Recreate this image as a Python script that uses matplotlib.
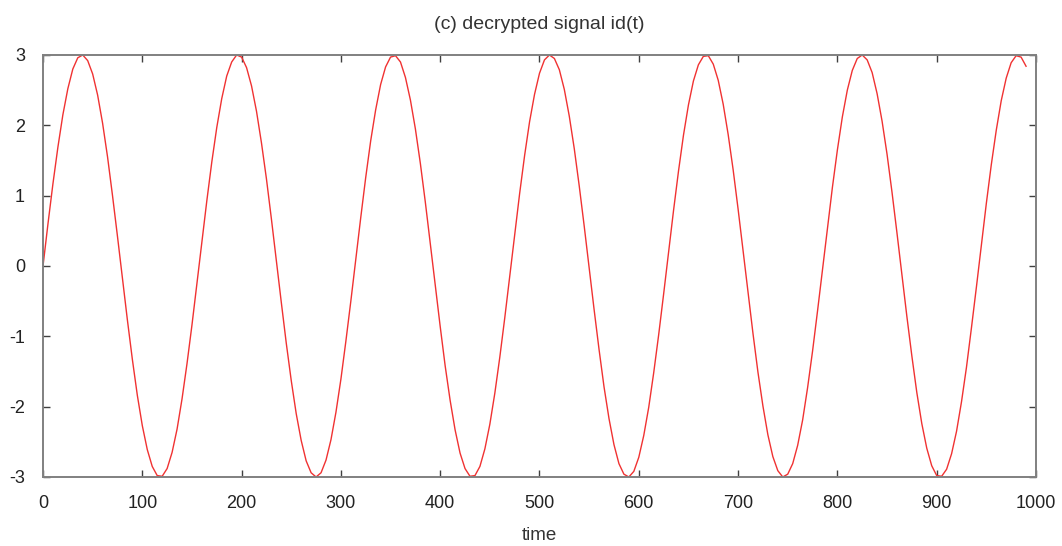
import matplotlib
matplotlib.use("Agg")
import matplotlib.pyplot as plt

plt.rcParams['font.family'] = ['Liberation Sans', 'DejaVu Sans']
plt.rcParams['axes.unicode_minus'] = False   # gnuplot prints a plain hyphen

# samples of id(t), every 5 time units
time = list(range(0, 995, 5))
signal = [
    0.00, 0.60, 1.17, 1.69, 2.15, 2.52, 2.80, 2.96, 3.00, 2.92, 2.73, 2.43, 2.03, 1.55, 1.00, 0.42,
    -0.18, -0.77, -1.33, -1.84, -2.27, -2.61, -2.85, -2.98, -2.99, -2.88, -2.65, -2.32, -1.89, -1.39, -0.84, -0.25,
    0.35, 0.93, 1.48, 1.97, 2.38, 2.70, 2.90, 3.00, 2.97, 2.82, 2.56, 2.20, 1.75, 1.24, 0.67, 0.07,
    -0.52, -1.10, -1.63, -2.10, -2.48, -2.77, -2.94, -3.00, -2.94, -2.76, -2.47, -2.08, -1.61, -1.07, -0.50,
    0.10, 0.69, 1.26, 1.78, 2.22, 2.58, 2.83, 2.97, 2.99, 2.90, 2.68, 2.36, 1.95, 1.46, 0.91, 0.32,
    -0.28, -0.86, -1.42, -1.91, -2.33, -2.66, -2.88, -2.99, -2.98, -2.85, -2.60, -2.25, -1.81, -1.30, -0.74, -0.15,
    0.45, 1.03, 1.57, 2.05, 2.44, 2.74, 2.93, 3.00, 2.95, 2.79, 2.51, 2.13, 1.67, 1.14, 0.57, -0.03,
    -0.62, -1.19, -1.72, -2.17, -2.54, -2.81, -2.96, -3.00, -2.92, -2.72, -2.41, -2.01, -1.52, -0.98, -0.40,
    0.20, 0.79, 1.35, 1.86, 2.29, 2.63, 2.86, 2.98, 2.99, 2.87, 2.64, 2.30, 1.87, 1.37, 0.81, 0.22,
    -0.38, -0.96, -1.51, -1.99, -2.40, -2.71, -2.91, -3.00, -2.96, -2.81, -2.55, -2.19, -1.73, -1.21, -0.64, -0.05,
    0.55, 1.12, 1.65, 2.12, 2.50, 2.78, 2.95, 3.00, 2.93, 2.75, 2.45, 2.06, 1.59, 1.05, 0.47, -0.13,
    -0.72, -1.28, -1.80, -2.24, -2.59, -2.84, -2.98, -2.99, -2.89, -2.67, -2.35, -1.93, -1.44, -0.88, -0.30,
    0.30, 0.89, 1.44, 1.93, 2.35, 2.67, 2.89, 2.99, 2.97, 2.84,
]

x_ticks = [0, 100, 200, 300, 400, 500, 600, 700, 800, 900, 1000]
y_ticks = [-3, -2, -1, 0, 1, 2, 3]

fig = plt.figure(figsize=(10.62, 5.46), dpi=100)
ax = fig.add_axes([0.0405, 0.1264, 0.935, 0.7729])

ax.plot(time, signal, color='#f03232', lw=1.0)

ax.set_xlim(0, 1000)
ax.set_ylim(-3, 3)
ax.set_xticks(x_ticks)
ax.set_yticks(y_ticks)

# gnuplot look: grey frame, inward ticks mirrored on all sides
for s in ax.spines.values():
    s.set_color('#808080')
    s.set_linewidth(1.4)
ax.tick_params(direction='in', length=5, width=1, color='#404040',
               top=True, right=True, labelsize=13, labelcolor='#222222', pad=13)

ax.set_title('(c) decrypted signal id(t)', fontsize=14, color='#333333', pad=19)
ax.set_xlabel('time', fontsize=13.5, color='#333333', labelpad=11)

fig.savefig('out.png', dpi=100)
